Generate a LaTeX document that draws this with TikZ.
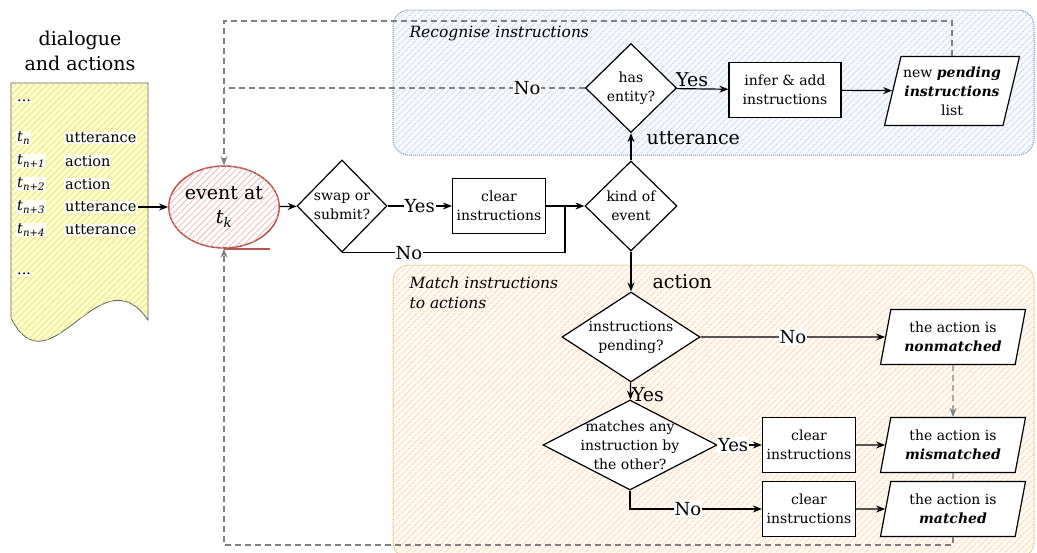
\documentclass[tikz,border=0pt]{standalone}
\usepackage{fontspec}
\setmainfont{DejaVu Serif}
\usetikzlibrary{shapes.geometric,arrows.meta,patterns.meta}
\newcommand{\fsz}[2]{\rmfamily\fontsize{#1}{#2}\selectfont}
\definecolor{recogline}{HTML}{6C8EBF}
\definecolor{recoghatch}{HTML}{BCD2EF}
\definecolor{matchline}{HTML}{D6B656}
\definecolor{matchhatch}{HTML}{F8CFA2}
\definecolor{eventline}{HTML}{B85450}
\definecolor{eventhatch}{HTML}{EFB9B6}
\definecolor{dochatch}{HTML}{E8E880}

\begin{document}
\begin{tikzpicture}
  [x=1pt,y=-1pt,every node/.style={font=\fsz{14}{19}},
   proc/.style={draw,line width=1.2pt,fill=white,align=center,minimum width=93,minimum height=55,inner sep=1pt},
   dec/.style={diamond,draw,line width=1.2pt,fill=white,inner sep=0pt},
   dectext/.style={align=center,font=\fsz{14}{19}},
   io/.style={trapezium,trapezium left angle=72,trapezium right angle=108,trapezium stretches body,
     draw,line width=1.2pt,fill=white,align=center,minimum width=145,minimum height=55,inner sep=1pt},
   flow/.style={line width=1.2pt,-{Stealth[length=9pt,width=7pt]}},
   back/.style={gray,line width=1.3pt,dash pattern=on 6pt off 4pt},
   backarrow/.style={back,-{Stealth[length=9pt,width=7pt]}},
   lbl/.style={font=\fsz{18}{22},text=black,fill=white,inner sep=1pt},
   side/.style={font=\fsz{19}{22},inner sep=1pt},
   listtext/.style={anchor=west,fill=white,fill opacity=.85,text opacity=1,inner sep=1pt,font=\fsz{14.5}{18}},
   regtitle/.style={anchor=west,align=left,font=\fsz{15.5}{20}\itshape},
   hatch/.style={postaction={pattern={Lines[angle=45,distance=4.5pt,line width=.8pt]},pattern color=#1}}]

  \useasboundingbox (0,0) rectangle (1037,552);

  \draw[rounded corners=16,draw=recogline,densely dotted,line width=1pt,fill=recogline!5,hatch=recoghatch]
    (393,10) rectangle (1034,155);
  \draw[rounded corners=16,draw=matchline,densely dotted,line width=1pt,fill=orange!5,hatch=matchhatch]
    (393,265) rectangle (1034,558);
  \node[regtitle] (rtitle1) at (406,34) {Recognise instructions};
  \node[regtitle] (rtitle2) at (406,293) {Match instructions\\to actions};

  \node[align=center,font=\fsz{19}{25}] (title) at (80,51) {dialogue\\and actions};
  \draw[draw=gray!70!black,line width=.8pt,fill=yellow!20,hatch=dochatch]
    (11,83) -- (148,83) -- (148,320) .. controls (100,250) and (50,395) .. (11,318) -- cycle;
  \node[listtext] (dots1) at (16,101) {...};
  \node[listtext] (dots2) at (16,274) {...};
  \foreach \i/\t/\w/\y in {1/n/utterance/138,2/n+1/action/161,3/n+2/action/184,
                           4/n+3/utterance/207,5/n+4/utterance/230}{
    \node[listtext] (t\i) at (16,\y) {\textit{t}\textsubscript{\textit{\t}}};
    \node[listtext] (w\i) at (64,\y) {\w};
  }

  \node[ellipse,draw=eventline,line width=1.5pt,fill=white,hatch=eventhatch,minimum width=92,
    minimum height=82,inner sep=0pt,align=center,font=\fsz{19}{24}]
    (event) at (224,207) {event at\\\textit{t}\textsubscript{\textit{k}}};
  \draw[eventline,line width=1.5pt] (event.south) -- ++(46,0);

  \node[dec,minimum width=90,minimum height=92,label={[dectext]center:swap or\\submit?}] (swap) at (342,206) {};
  \node[proc] (clear1) at (499,206) {clear\\instructions};
  \coordinate (j1) at (565,206);
  \node[dec,minimum width=92,minimum height=90,label={[dectext]center:kind of\\event}] (kind) at (631,206) {};

  \node[dec,minimum width=91,minimum height=89,label={[dectext]center:has\\entity?}] (has) at (631,88) {};
  \node[proc,minimum width=112] (infer) at (785,90) {infer \& add\\instructions};
  \node[io,minimum width=135,minimum height=69] (newlist) at (952,91)
    {new \textbf{\textit{pending}}\\\textbf{\textit{instructions}}\\list};

  \node[dec,minimum width=138,minimum height=90,label={[dectext]center:instructions\\pending?}] (pend) at (631,337) {};
  \node[io] (nonm) at (953,337) {the action is\\\textbf{\textit{nonmatched}}};
  \node[dec,minimum width=174,minimum height=90,
    label={[dectext]center:matches any\\instruction by\\the other?}] (match) at (630,445) {};
  \node[proc] (clear2) at (809,445) {clear\\instructions};
  \node[io] (mism) at (953,445) {the action is\\\textbf{\textit{mismatched}}};
  \node[proc] (clear3) at (809,509) {clear\\instructions};
  \node[io] (matched) at (953,509) {the action is\\\textbf{\textit{matched}}};

  \coordinate (top) at (224,21);
  \coordinate (bot) at (224,545);

  \draw[flow] (w4) -- (event);
  \draw[flow] (event) -- (swap);
  \draw[flow] (swap) -- node[lbl]{Yes} (clear1);
  \draw[flow] (clear1) -- (j1) -- (kind);
  \draw[line width=1.2pt] (swap.south) -- node[lbl,pos=.3]{No} (swap.south -| j1) -- (j1);

  \draw[flow] (kind) -- node[side,right,pos=.8,xshift=14]{utterance} (has);
  \draw[flow] (has) -- node[side,above,pos=.3]{Yes} (infer);
  \draw[flow] (infer) -- (newlist);
  \draw[back] (has) -- node[lbl,pos=.16]{No} (has -| top);
  \draw[backarrow] (newlist.north) |- (top) -- (event.north);

  \draw[flow] (kind) -- node[side,right,pos=.75,xshift=20]{action} (pend);
  \draw[flow] (pend) -- node[lbl]{No} (nonm);
  \draw[flow] (pend) -- node[side,right,pos=.7]{Yes} (match);
  \draw[flow] (match) -- node[lbl,pos=.35]{Yes} (clear2);
  \draw[flow] (clear2) -- (mism);
  \draw[flow] (match.south) |- node[lbl,pos=.72]{No} (clear3);
  \draw[flow] (clear3) -- (matched);
  \draw[backarrow] (nonm) -- (mism);
  \draw[back] (mism) -- (matched);
  \draw[backarrow] (matched.south) |- (bot) -- (event.south);
\end{tikzpicture}
\end{document}
